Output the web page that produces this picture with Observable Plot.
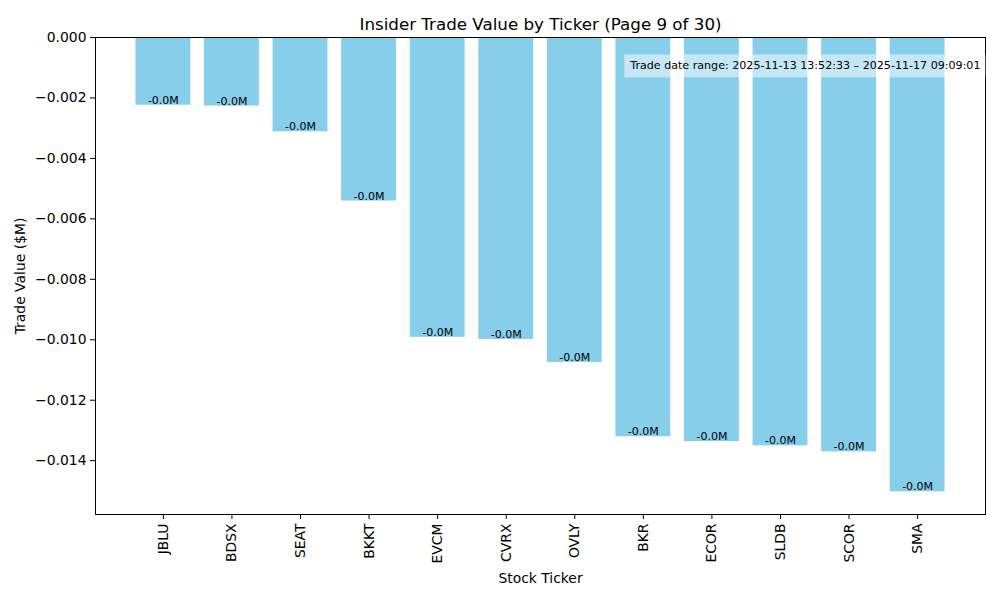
<!DOCTYPE html>
<html>
<head>
<meta charset="utf-8">
<script src="https://cdn.jsdelivr.net/npm/d3@7"></script>
<script src="https://cdn.jsdelivr.net/npm/@observablehq/plot@0.6"></script>
<style>
  html, body { margin: 0; padding: 0; background: #fff; }
  #chart { width: 1000px; height: 600px; }
</style>
</head>
<body>
<div id="chart"></div>
<script>
const tickers = ["JBLU","BDSX","SEAT","BKKT","EVCM","CVRX","OVLY","BKR","ECOR","SLDB","SCOR","SMA"];
const values = [-0.00224,-0.00227,-0.00312,-0.00541,-0.00992,-0.00999,-0.01075,-0.01321,-0.01337,-0.01351,-0.01371,-0.01503];
const barLabels = ["-0.0M","-0.0M","-0.0M","-0.0M","-0.0M","-0.0M","-0.0M","-0.0M","-0.0M","-0.0M","-0.0M","-0.0M"];
const yTicks = [0,-0.002,-0.004,-0.006,-0.008,-0.010,-0.012,-0.014];
const title = "Insider Trade Value by Ticker (Page 9 of 30)";
const note = "Trade date range: 2025-11-13 13:52:33 \u2013 2025-11-17 09:09:01";
const xLabel = "Stock Ticker";
const yLabel = "Trade Value ($M)";

const data = tickers.map((t, i) => ({ticker: t, value: values[i], label: barLabels[i]}));
const yMin = d3.min(values) * 1.05;

const font = "DejaVu Sans, sans-serif";

const plot = Plot.plot({
  width: 1000,
  height: 600,
  marginLeft: 95,
  marginRight: 15,
  marginTop: 37,
  marginBottom: 86,
  style: {fontFamily: font, fontSize: "13.9px", color: "#000", background: "#fff", overflow: "visible"},
  x: {type: "band", domain: tickers, paddingInner: 0.2, paddingOuter: 0.59, round: false, label: null},
  y: {domain: [yMin, 0], label: null},
  marks: [
    Plot.barY(data, {x: "ticker", y1: 0, y2: "value", fill: "#87CEEB"}),
    Plot.text(data, {x: "ticker", y: "value", text: "label", fontSize: 11, fill: "#000", lineAnchor: "bottom", dy: -1.5}),
    Plot.frame({stroke: "#000", strokeWidth: 1}),
    Plot.axisY({ticks: yTicks, tickFormat: d3.format(".3f"), tickSize: 5, tickPadding: 4, fontSize: 13.9,
      label: yLabel, labelAnchor: "center", labelArrow: false, labelOffset: 80}),
    Plot.axisX({tickSize: 5, tickPadding: 4, tickRotate: -90, fontSize: 13.9,
      label: xLabel, labelAnchor: "center", labelArrow: false, labelOffset: 68}),
    Plot.text([title], {frameAnchor: "top", dy: -19, fontSize: 16.7, fill: "#000"}),
    Plot.text([note], {frameAnchor: "top-right", dx: -5, dy: 27.5 - 3.5, textAnchor: "end", fontSize: 11.1, fill: "#000", className: "note-text"})
  ]
});

document.getElementById("chart").appendChild(plot);

// background box behind annotation, sized from the rendered text
const noteG = plot.querySelector(".note-text");
if (noteG) {
  const t = noteG.querySelector("text");
  const bb = t.getBBox();
  const padX = 5, padY = 5;
  const rect = document.createElementNS("http://www.w3.org/2000/svg", "rect");
  rect.setAttribute("x", bb.x - padX);
  rect.setAttribute("y", bb.y - padY);
  rect.setAttribute("width", bb.width + 2 * padX);
  rect.setAttribute("height", bb.height + 2 * padY);
  rect.setAttribute("fill", "#fff");
  rect.setAttribute("fill-opacity", 0.5);
  if (t.getAttribute("transform")) rect.setAttribute("transform", t.getAttribute("transform"));
  noteG.insertBefore(rect, t);
}
</script>
</body>
</html>
